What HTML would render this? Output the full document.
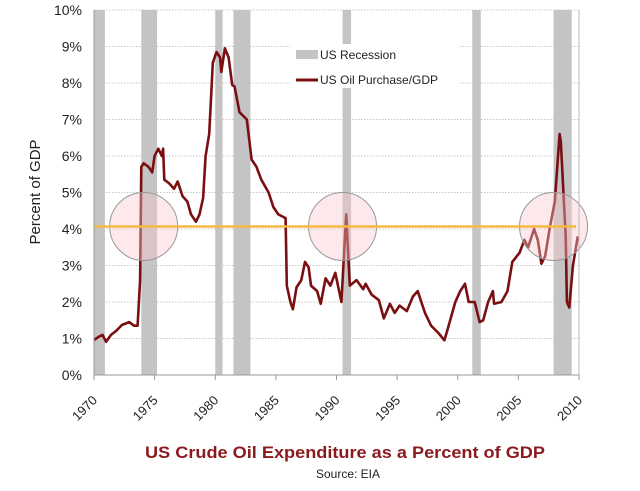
<!DOCTYPE html>
<html><head><meta charset="utf-8"><style>
body{margin:0;background:#fff;}
svg{display:block;font-family:"Liberation Sans",sans-serif;}
</style></head><body>
<svg id="chart" width="640" height="491" viewBox="0 0 640 491" xmlns="http://www.w3.org/2000/svg">
<g id="grid"></g><g id="rec"></g><g id="legendbg"></g><g id="line"></g><g id="circles"></g><g id="axes"></g>
</svg>
<script>
const yTicks=[0,1,2,3,4,5,6,7,8,9,10];
const xTicks=[1970,1975,1980,1985,1990,1995,2000,2005,2010];
const recStart=[1970.0,1973.9,1980.0,1981.5,1990.5,2001.2,2007.9];
const recEnd=[1970.9,1975.2,1980.6,1982.9,1991.2,2001.9,2009.4];
const years=[1970.0,1970.4,1970.7,1971.0,1971.4,1971.8,1972.3,1972.9,1973.3,1973.6,1973.8,1973.9,1974.1,1974.5,1974.8,1975.0,1975.3,1975.6,1975.7,1975.8,1976.2,1976.6,1976.9,1977.3,1977.7,1978.0,1978.4,1978.7,1979.0,1979.2,1979.5,1979.8,1980.1,1980.4,1980.5,1980.8,1981.1,1981.4,1981.6,1982.0,1982.6,1983.0,1983.4,1983.8,1984.4,1984.8,1985.2,1985.8,1985.9,1986.2,1986.4,1986.7,1987.1,1987.4,1987.7,1987.9,1988.4,1988.7,1989.1,1989.5,1989.9,1990.4,1990.8,1991.1,1991.65,1992.2,1992.4,1992.9,1993.5,1993.9,1994.4,1994.8,1995.2,1995.8,1996.3,1996.7,1997.3,1997.8,1998.4,1998.9,1999.2,1999.8,2000.2,2000.6,2000.9,2001.4,2001.8,2002.1,2002.5,2002.9,2003.0,2003.6,2004.1,2004.5,2005.1,2005.5,2005.8,2006.3,2006.6,2006.9,2007.2,2007.6,2008.0,2008.4,2008.5,2008.9,2009.0,2009.2,2009.5,2009.9];
const values=[0.96,1.05,1.1,0.91,1.1,1.2,1.37,1.45,1.35,1.35,2.6,5.7,5.8,5.7,5.55,6.0,6.2,6.0,6.2,5.35,5.25,5.1,5.3,4.9,4.75,4.4,4.2,4.4,4.85,6.0,6.6,8.55,8.85,8.7,8.3,8.95,8.7,7.95,7.9,7.2,7.0,5.9,5.7,5.35,5.0,4.6,4.4,4.3,2.45,2.0,1.8,2.4,2.6,3.1,2.95,2.45,2.3,1.95,2.65,2.45,2.8,2.0,4.4,2.45,2.6,2.35,2.5,2.2,2.05,1.55,1.95,1.7,1.9,1.75,2.15,2.3,1.7,1.35,1.15,0.95,1.3,2.0,2.3,2.5,2.0,2.0,1.45,1.5,2.0,2.3,1.95,2.0,2.3,3.1,3.35,3.7,3.5,4.0,3.7,3.05,3.25,4.05,4.75,6.6,6.4,3.8,2.0,1.85,3.0,3.8];
const avgLevel=[4.07];
const circleYears=[1974.1,1990.5,2007.9];

const X0=94,X1=579,Y0=375,Y1=10;
const xs=y=>X0+(y-1970)/40*(X1-X0);
const ys=v=>Y0-v/10*(Y0-Y1);
const NS="http://www.w3.org/2000/svg";
function mk(tag,attrs,parent,text){const e=document.createElementNS(NS,tag);for(const k in attrs)e.setAttribute(k,attrs[k]);if(text!==undefined)e.textContent=text;document.getElementById(parent).appendChild(e);return e;}

yTicks.forEach(t=>{
  if(t>0){const g=mk('line',{x1:X0,x2:X1,y1:ys(t),y2:ys(t),stroke:'#c8c8c8','stroke-dasharray':'1.5,1.5'},'grid');
  
  }
  const l=mk('text',{x:82,y:ys(t)+5,'text-anchor':'end','font-size':14,fill:'#222'},'axes',t+'%');
  
  
});
recStart.forEach((s,i)=>{
  const r=mk('rect',{x:xs(s),y:Y1,width:xs(recEnd[i])-xs(s),height:Y0-Y1,fill:'#c4c4c4'},'rec');
  
  
});
const lb=mk('rect',{x:290,y:44,width:170,height:44,fill:'#fff'},'legendbg');


const d=years.map((y,i)=>(i?'L':'M')+xs(y).toFixed(1)+','+ys(values[i]).toFixed(1)).join('');
const p=mk('path',{d:d,fill:'none',stroke:'#7a0f12','stroke-width':2.6,'stroke-linejoin':'round'},'line');


circleYears.forEach(cy=>{
  const c=mk('circle',{cx:xs(cy),cy:ys(avgLevel[0]),r:34,fill:'rgba(250,200,205,0.4)',stroke:'#999','stroke-width':1},'circles');
  
  
});
const al=mk('line',{x1:X0,x2:576,y1:ys(avgLevel[0]),y2:ys(avgLevel[0]),stroke:'#f5b942','stroke-width':2.5},'circles');


const ax=mk('line',{x1:X0,x2:X0,y1:Y1,y2:Y0,stroke:'#999'},'axes');


const ax2=mk('line',{x1:X0,x2:X1,y1:Y0,y2:Y0,stroke:'#999'},'axes');


const ax3=mk('line',{x1:X1,x2:X1,y1:Y1,y2:Y0,stroke:'#bbb'},'axes');


xTicks.forEach(t=>{
  mk('line',{x1:xs(t),x2:xs(t),y1:Y0,y2:Y0+5,stroke:'#999'},'axes');
  const l=mk('text',{x:xs(t)+4,y:Y0+26,'text-anchor':'end','font-size':13,fill:'#222',transform:`rotate(-45 ${xs(t)+4} ${Y0+26})`},'axes',t);
  
  
});
const l1=mk('rect',{x:296,y:50,width:22,height:9,fill:'#c4c4c4'},'axes');


const t1=mk('text',{x:320,y:59,'font-size':12,fill:'#222'},'axes','US Recession');


const l2=mk('line',{x1:296,x2:318,y1:80,y2:80,stroke:'#7a0f12','stroke-width':3},'axes');


const t2=mk('text',{x:320,y:84,'font-size':12,fill:'#222'},'axes','US Oil Purchase/GDP');


const yt=mk('text',{x:40,y:192,'text-anchor':'middle','font-size':15,fill:'#222',transform:'rotate(-90 40 192)'},'axes','Percent of GDP');


const tt=mk('text',{x:345,y:458,'text-anchor':'middle','font-size':17,'font-weight':'bold',fill:'#8b1a1e',textLength:400,lengthAdjust:'spacingAndGlyphs'},'axes','US Crude Oil Expenditure as a Percent of GDP');


const st=mk('text',{x:348,y:478,'text-anchor':'middle','font-size':12,fill:'#222'},'axes','Source: EIA');


</script>
</body></html>
